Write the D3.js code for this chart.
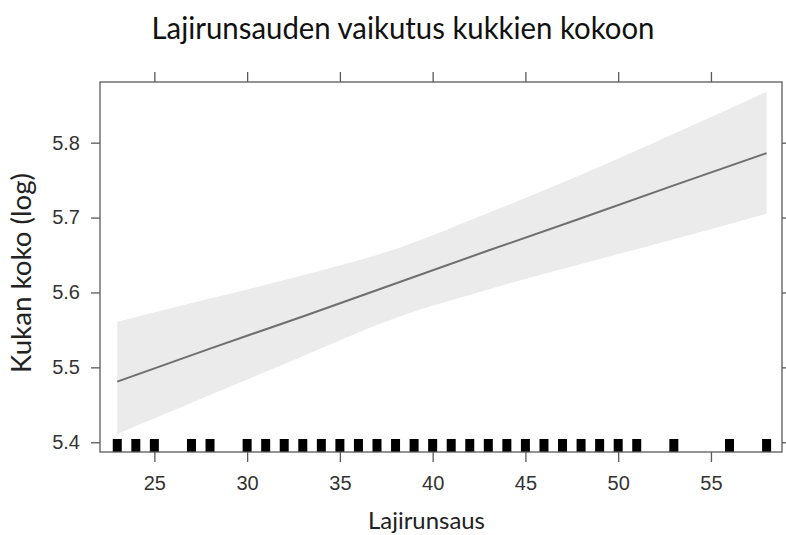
<!DOCTYPE html>
<html>
<head>
<meta charset="utf-8">
<script src="https://cdn.jsdelivr.net/npm/d3@7"></script>
<style>
  html, body { margin: 0; padding: 0; background: #fff; }
  svg { display: block; }
</style>
</head>
<body>
<svg id="chart" width="786" height="535"></svg>
<script>
// ---- data ----
const titleText = "Lajirunsauden vaikutus kukkien kokoon";
const xLabel = "Lajirunsaus";
const yLabel = "Kukan koko (log)";

const xTicks = [25, 30, 35, 40, 45, 50, 55];
const yTicks = [5.4, 5.5, 5.6, 5.7, 5.8];

// fitted effect line and confidence band
const bandX     = [23,    28,    33,    38,    43,    48,    53,    58];
const fitY      = [5.481, 5.525, 5.568, 5.612, 5.656, 5.699, 5.743, 5.786];
const bandLower = [5.411, 5.463, 5.515, 5.566, 5.604, 5.638, 5.671, 5.705];
const bandUpper = [5.561, 5.592, 5.623, 5.658, 5.706, 5.757, 5.812, 5.868];

// rug of observed species-richness values
const rugX = [23, 24, 25, 27, 28, 30, 31, 32, 33, 34, 35, 36, 37, 38, 39, 40,
              41, 42, 43, 44, 45, 46, 47, 48, 49, 50, 51, 53, 56, 58];

(function () {
// ---- layout ----
const svg = d3.select("#chart");
const pLeft = 100, pRight = 782, pTop = 82, pBottom = 452;

const x = d3.scaleLinear().domain([22.07, 58.83]).range([pLeft, pRight]);
const y = d3.scaleLinear().domain([5.387, 5.881]).range([pBottom, pTop]);

const axisColor = "#5a5a5a";
const labelColor = "#333";
const tickFont = "'Liberation Sans', Arial, sans-serif";
const textFont = "Lato, 'Open Sans', sans-serif";

// band
const pts = bandX.map((v, i) => ({x: v, lo: bandLower[i], hi: bandUpper[i], f: fitY[i]}));
svg.append("path")
  .datum(pts)
  .attr("fill", "#ebebeb")
  .attr("d", d3.area().curve(d3.curveMonotoneX)
    .x(d => x(d.x)).y0(d => y(d.lo)).y1(d => y(d.hi)));

// fit line
svg.append("path")
  .datum(pts)
  .attr("fill", "none")
  .attr("stroke", "#6e6e6e")
  .attr("stroke-width", 2)
  .attr("d", d3.line().x(d => x(d.x)).y(d => y(d.f)));

// rug
const rugH = 13, rugW = 9;
svg.append("g").selectAll("rect")
  .data(rugX)
  .join("rect")
  .attr("x", d => x(d) - rugW / 2)
  .attr("y", pBottom - rugH)
  .attr("width", rugW)
  .attr("height", rugH)
  .attr("fill", "#000");

// panel box
svg.append("rect")
  .attr("x", pLeft).attr("y", pTop)
  .attr("width", pRight - pLeft).attr("height", pBottom - pTop)
  .attr("fill", "none").attr("stroke", axisColor).attr("stroke-width", 1.3);

function styleAxis(g) {
  g.select(".domain").remove();
  g.selectAll(".tick line").attr("stroke", axisColor).attr("stroke-width", 1.3);
  g.selectAll(".tick text").attr("fill", labelColor)
    .attr("font-family", tickFont).attr("font-size", 20);
}

// bottom
svg.append("g").attr("transform", `translate(0,${pBottom})`)
  .call(d3.axisBottom(x).tickValues(xTicks).tickSize(10).tickPadding(14).tickFormat(d3.format("d")))
  .call(styleAxis);
// top
svg.append("g").attr("transform", `translate(0,${pTop})`)
  .call(d3.axisTop(x).tickValues(xTicks).tickSize(10).tickFormat(""))
  .call(styleAxis);
// left
svg.append("g").attr("transform", `translate(${pLeft},0)`)
  .call(d3.axisLeft(y).tickValues(yTicks).tickSize(9).tickPadding(11).tickFormat(d3.format(".1f")))
  .call(styleAxis);
// right
svg.append("g").attr("transform", `translate(${pRight},0)`)
  .call(d3.axisRight(y).tickValues(yTicks).tickSize(10).tickFormat(""))
  .call(styleAxis);

// text: given size, squeezed to the measured reference width
function squeeze(sel, targetW) {
  const w = sel.node().getComputedTextLength();
  if (w > targetW) sel.attr("textLength", targetW).attr("lengthAdjust", "spacingAndGlyphs");
  else sel.attr("font-size", parseFloat(sel.attr("font-size")) * targetW / w);
}

const t = svg.append("text")
  .attr("x", 403).attr("y", 39)
  .attr("text-anchor", "middle")
  .attr("font-family", textFont).attr("font-size", 31)
  .attr("fill", "#111")
  .text(titleText);
squeeze(t, 503);

const xl = svg.append("text")
  .attr("x", 426.5).attr("y", 529)
  .attr("text-anchor", "middle")
  .attr("font-family", textFont).attr("font-size", 21)
  .attr("fill", "#222")
  .text(xLabel);
squeeze(xl, 117);

const yl = svg.append("text")
  .attr("transform", "translate(31,273) rotate(-90)")
  .attr("text-anchor", "middle")
  .attr("font-family", textFont).attr("font-size", 23)
  .attr("fill", "#222")
  .text(yLabel);
squeeze(yl, 200);
})();
</script>
</body>
</html>
